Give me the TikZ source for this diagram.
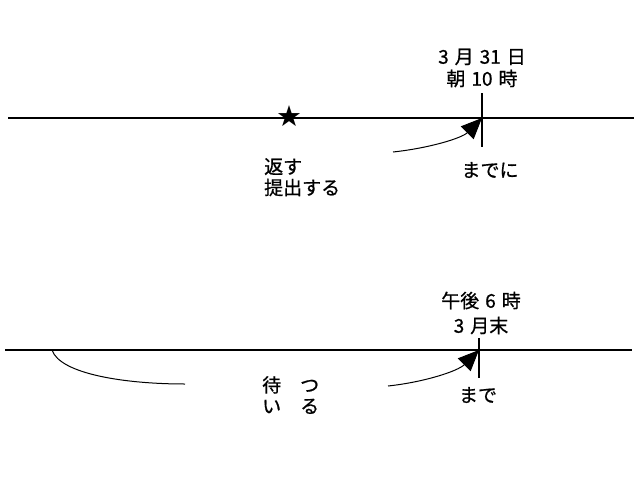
\documentclass[tikz,border=0pt]{standalone}
\usepackage{fontspec}
\setmainfont[FakeBold=0.8]{Noto Sans CJK JP}
\usetikzlibrary{arrows.meta}
\newcommand{\wgap}{\hspace{6pt}}
\begin{document}
\begin{tikzpicture}[x=1pt,y=-1pt,
  lbl/.style={font=\fontsize{19}{22}\selectfont, inner sep=0pt, align=center},
  lblL/.style={font=\fontsize{19}{21}\selectfont, inner sep=0pt, align=left, anchor=north west},
  axis/.style={line width=1.8pt},
  tick/.style={line width=1.2pt},
  curve/.style={line width=1pt},
  arr/.style={line width=1pt, -{Triangle[length=21pt,width=18pt]}}]
\useasboundingbox (0,0) rectangle (640,480);
% top timeline
\coordinate (tl) at (8,118);
\coordinate (tr) at (634,118);
\coordinate (tk) at (482,118);
\coordinate (tkt) at (482,93);
\coordinate (tkb) at (482,147);
\draw[axis] (tl) -- (tr);
\draw[tick] (tkt) -- (tkb);
\node (star) at (289,116.5) {\fontspec{DejaVu Sans}\fontsize{29}{29}\selectfont ★};
\node[lbl] (t1) at (482,68) {3\wgap 月\wgap 31\wgap 日\\朝\wgap 10\wgap 時};
\node[lbl] (madeni) at (490,170) {までに};
\node[lblL] (kaesu) at (264,158) {返す\\提出する};
\coordinate (a1s) at (393,152);
\draw[arr] (a1s) .. controls (430,148) and (462,138) .. (tk);
% bottom timeline
\coordinate (bl) at (5,350);
\coordinate (br) at (632,350);
\coordinate (bk) at (479,350);
\coordinate (bkt) at (479,338);
\coordinate (bkb) at (479,378);
\draw[axis] (bl) -- (br);
\draw[tick] (bkt) -- (bkb);
\node[lbl] (t2) at (481,313) {午後\wgap 6\wgap 時\\[3pt]3\wgap 月末};
\node[lbl] (made) at (478,395) {まで};
\node[lblL] (matsu) at (262,376) {待　つ\\い　る};
\coordinate (c0) at (52,350);
\coordinate (c1) at (185,384);
\draw[curve] (c0) .. controls (60,374) and (125,384) .. (c1);
\coordinate (a2s) at (388,386);
\draw[arr] (a2s) .. controls (425,382) and (458,371) .. (bk);
\end{tikzpicture}
\end{document}
